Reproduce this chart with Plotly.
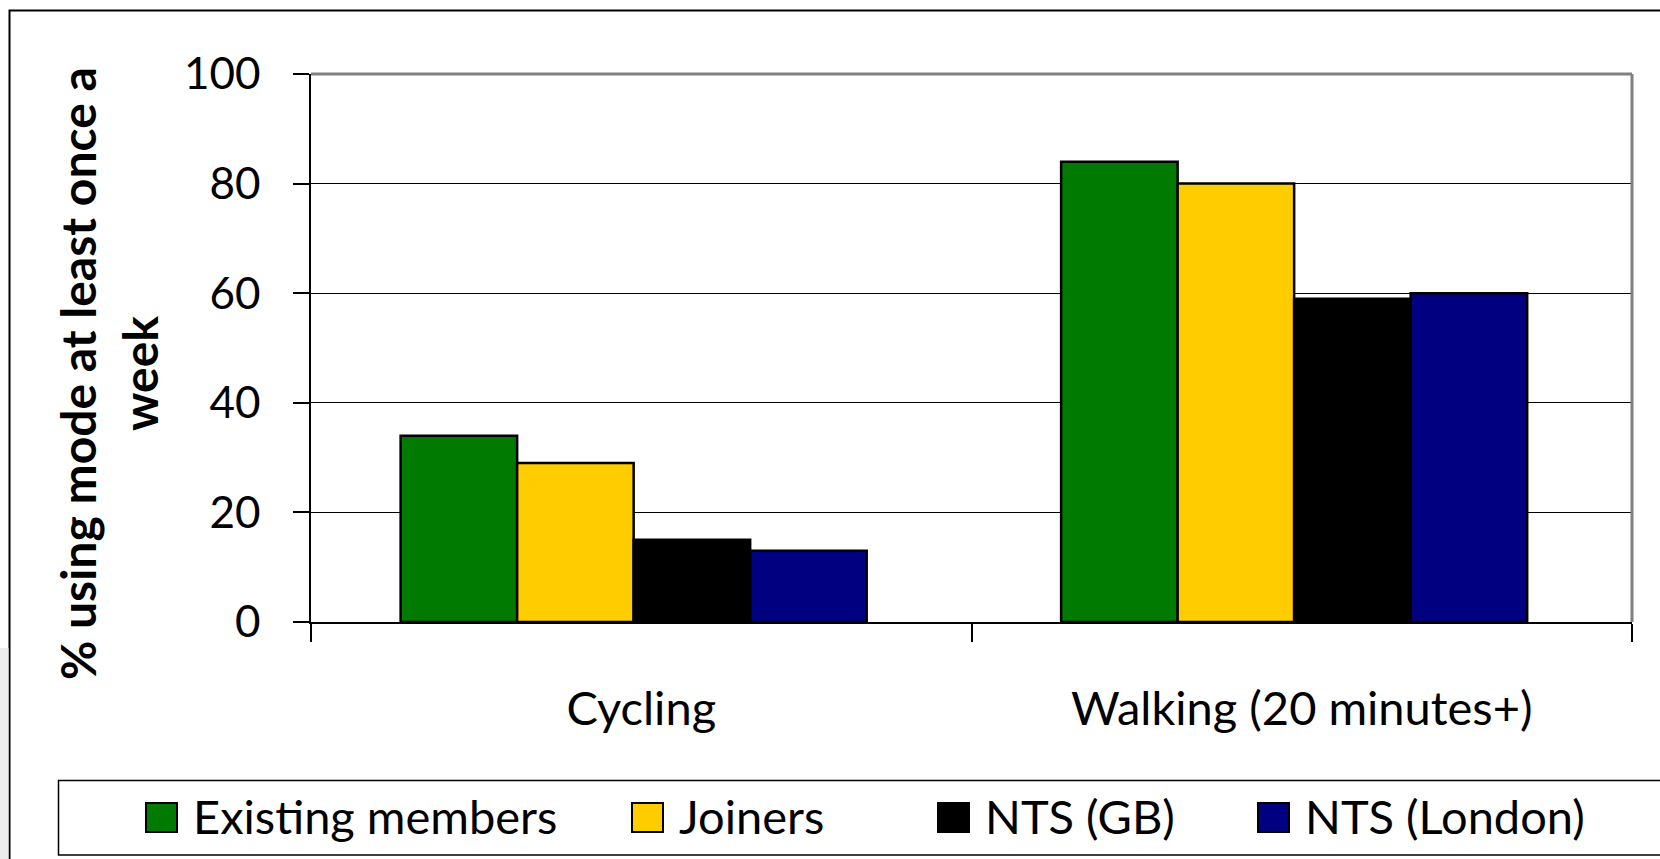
import plotly.graph_objects as go

# ---- data ----
categories = ["Cycling", "Walking (20 minutes+)"]
series_names = ["Existing members", "Joiners", "NTS (GB)", "NTS (London)"]
existing_members = [34, 84]
joiners = [29, 80]
nts_gb = [15, 59]
nts_london = [13, 60]
y_ticks = [0, 20, 40, 60, 80, 100]
y_title = "% using mode at least once a<br>week"

series_values = [existing_members, joiners, nts_gb, nts_london]
colors = ["#007A00", "#FFCC00", "#000000", "#000080"]

FONT = "Lato"
W, H = 1660, 859
L, R, T, B = 311, 1632, 74, 622  # plot area in pixels


def px_x(px):
    return (px - L) / (R - L)


def px_y(py):
    return (B - py) / (B - T)


bar_w = 0.1764
group_left = -0.3643

fig = go.Figure()
for i, (name, vals, col) in enumerate(zip(series_names, series_values, colors)):
    fig.add_trace(go.Bar(
        x=categories, y=vals, name=name,
        marker=dict(color=col, line=dict(color="#000000", width=2.5)),
        width=bar_w, offset=group_left + i * bar_w,
        showlegend=False,
    ))

shapes = []
annotations = []

# outer chart border (extends past right / bottom edges as in the reference)
shapes.append(dict(type="rect", xref="paper", yref="paper",
                   x0=px_x(9.5), x1=px_x(1720), y0=px_y(10.5), y1=px_y(920),
                   line=dict(color="#000000", width=2), layer="below"))
# light gray strip at the bottom-left
shapes.append(dict(type="rect", xref="paper", yref="paper",
                   x0=px_x(-5), x1=px_x(8.5), y0=px_y(648), y1=px_y(870),
                   fillcolor="#ECECEC", line=dict(width=0), layer="below"))
# plot area gray border (top & right)
shapes.append(dict(type="line", xref="paper", yref="paper",
                   x0=0, x1=1, y0=1, y1=1, line=dict(color="#808080", width=3)))
shapes.append(dict(type="line", xref="paper", yref="paper",
                   x0=1, x1=1, y0=0, y1=1, line=dict(color="#808080", width=3)))

# legend box
shapes.append(dict(type="rect", xref="paper", yref="paper",
                   x0=px_x(58.5), x1=px_x(1720), y0=px_y(780.5), y1=px_y(855),
                   line=dict(color="#000000", width=1.5), fillcolor="rgba(0,0,0,0)"))
legend_sw_x = [146, 632, 938, 1258]
for name, col, sx in zip(series_names, colors, legend_sw_x):
    shapes.append(dict(type="rect", xref="paper", yref="paper",
                       x0=px_x(sx), x1=px_x(sx + 31), y0=px_y(803), y1=px_y(832),
                       fillcolor=col, line=dict(color="#000000", width=2)))
    annotations.append(dict(text=name, xref="paper", yref="paper",
                            x=px_x(sx + 45), y=px_y(816), xanchor="left", yanchor="middle",
                            showarrow=False, font=dict(family=FONT, size=47, color="#000000")))

# y-axis title
annotations.append(dict(text=y_title, xref="paper", yref="paper",
                        x=px_x(108), y=px_y(374), xanchor="center", yanchor="middle",
                        textangle=-90, showarrow=False, align="center",
                        font=dict(family=FONT, size=48, color="#000000", weight="bold")))

fig.update_layout(
    width=W, height=H,
    margin=dict(l=L, r=W - R, t=T, b=H - B, pad=0),
    paper_bgcolor="#FFFFFF", plot_bgcolor="#FFFFFF",
    barmode="overlay",
    showlegend=False,
    shapes=shapes, annotations=annotations,
    font=dict(family=FONT, size=44, color="#000000"),
)
fig.update_xaxes(
    type="category", range=[-0.5, 1.5],
    showline=True, linecolor="#000000", linewidth=1.5,
    ticks="outside", tickson="boundaries", ticklen=18, tickcolor="#000000", tickwidth=1.5,
    showgrid=False, ticklabelstandoff=45,
    tickfont=dict(family=FONT, size=47, color="#000000"),
)
fig.update_yaxes(
    range=[0, 100], tickvals=y_ticks,
    showline=True, linecolor="#000000", linewidth=1.5,
    ticks="outside", ticklen=16, tickcolor="#000000", tickwidth=1.5,
    showgrid=True, gridcolor="#000000", gridwidth=1.2,
    zeroline=False, ticklabelstandoff=24,
    tickfont=dict(family=FONT, size=44, color="#000000"),
)

fig.write_html(
    "out.html",
    config={"displayModeBar": False},
    post_script="document.body.style.margin='0';document.body.style.overflow='hidden';",
)
